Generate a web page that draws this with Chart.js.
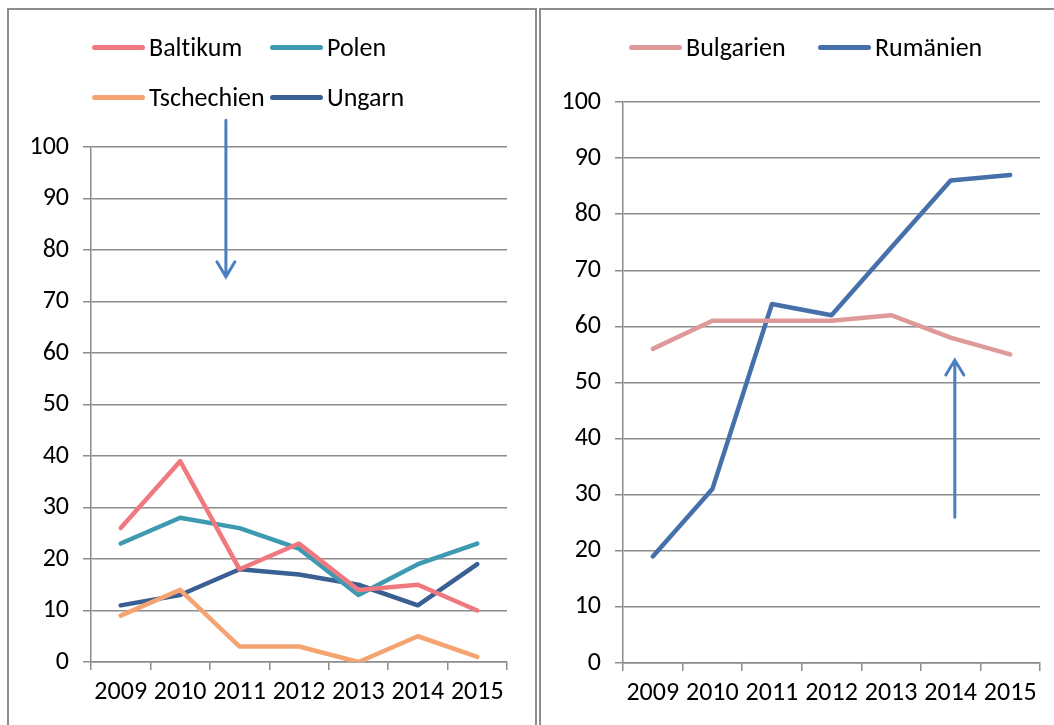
<!DOCTYPE html>
<html>
<head>
<meta charset="utf-8">
<script src="https://cdn.jsdelivr.net/npm/chart.js@4/dist/chart.umd.min.js"></script>
<style>
    body { margin: 0; background: #fff; width: 1054px; height: 725px; overflow: hidden; position: relative; font-family: Carlito, Lato, sans-serif; }
    .panel { position: absolute; top: 8px; height: 800px; border: 2px solid #8c8c8c; box-sizing: border-box; }
    canvas { position: absolute; }
    .legend { position: absolute; display: grid; row-gap: 0; font-size: 26px; color: #000; font-variant-ligatures: none; }
    .item { display: flex; align-items: center; height: 50px; white-space: nowrap; }
    .swatch { width: 53px; height: 5px; border-radius: 3px; margin-right: 4px; }
</style>
</head>
<body>
<div class="panel" style="left:7px; width:530px;"></div>
<div class="panel" style="left:539px; width:600px;"></div>
<canvas id="leftChart" width="526" height="715" style="left:9px; top:10px;"></canvas>
<canvas id="rightChart" width="513" height="715" style="left:541px; top:10px;"></canvas>
<div id="leftLegend" class="legend" style="left:92px; top:22px; grid-template-columns:178px 178px;"></div>
<div id="rightLegend" class="legend" style="left:629px; top:22px; grid-template-columns:189px 189px;"></div>
<script>
const years = ["2009", "2010", "2011", "2012", "2013", "2014", "2015"];
const yTicks = [0, 10, 20, 30, 40, 50, 60, 70, 80, 90, 100];

const leftLabels = ["Baltikum", "Polen", "Tschechien", "Ungarn"];
const leftColors = ["#f0797f", "#3d9ab1", "#f5a471", "#3a5f92"];
const baltikum = [26, 39, 18, 23, 14, 15, 10];
const polen = [23, 28, 26, 22, 13, 19, 23];
const tschechien = [9, 14, 3, 3, 0, 5, 1];
const ungarn = [11, 13, 18, 17, 15, 11, 19];

const rightLabels = ["Bulgarien", "Rumänien"];
const rightColors = ["#de9a99", "#4570aa"];
const bulgarien = [56, 61, 61, 61, 62, 58, 55];
const rumaenien = [19, 31, 64, 62, 74, 86, 87];

// arrows in data units: x = category index, y from -> to
const leftArrow = { x: 1.77, from: 105.2, to: 74.8 };
const rightArrow = { x: 5.07, from: 26, to: 54 };

const gridGray = "#8c8c8c";
const fontSpec = { family: "Carlito, Lato, sans-serif", size: 26 };

function arrowPlugin(arrow) {
    return {
        id: "arrow",
        afterDatasetsDraw(chart) {
            const ctx = chart.ctx;
            const x = chart.scales.x.getPixelForValue(arrow.x);
            const y1 = chart.scales.y.getPixelForValue(arrow.from);
            const y2 = chart.scales.y.getPixelForValue(arrow.to);
            const dir = y2 > y1 ? 1 : -1;
            ctx.save();
            ctx.strokeStyle = "#4a7fc1";
            ctx.lineWidth = 3;
            ctx.lineCap = "round";
            ctx.lineJoin = "miter";
            ctx.beginPath();
            ctx.moveTo(x, y1);
            ctx.lineTo(x, y2);
            ctx.moveTo(x - 9, y2 - dir * 15);
            ctx.lineTo(x, y2);
            ctx.lineTo(x + 9, y2 - dir * 15);
            ctx.stroke();
            ctx.restore();
        }
    };
}

function makeDatasets(labels, colors, series) {
    return series.map((data, i) => ({
        label: labels[i],
        data: data,
        borderColor: colors[i],
        backgroundColor: colors[i],
        borderWidth: 4.5,
        pointRadius: 0,
        tension: 0,
        borderCapStyle: "round",
        borderJoinStyle: "round"
    }));
}

function makeChart(id, datasets, arrow, pad) {
    return new Chart(document.getElementById(id), {
        type: "line",
        data: { labels: years, datasets: datasets },
        options: {
            responsive: false,
            animation: false,
            layout: { padding: { top: pad.top, right: pad.right, left: 0, bottom: 0 } },
            plugins: { legend: { display: false }, tooltip: { enabled: false } },
            scales: {
                x: {
                    offset: true,
                    grid: { display: true, drawOnChartArea: false, drawTicks: true, tickLength: 8, color: gridGray, lineWidth: 1.5, offset: true },
                    border: { display: true, color: gridGray, width: 1.5 },
                    ticks: { color: "#000", font: fontSpec, padding: 7, maxRotation: 0, autoSkip: false },
                    afterFit(scale) { scale.height = pad.xHeight; }
                },
                y: {
                    min: 0,
                    max: 100,
                    afterBuildTicks(scale) { scale.ticks = yTicks.map(v => ({ value: v })); },
                    grid: { color: gridGray, lineWidth: 1.5, tickLength: 8 },
                    border: { display: true, color: gridGray, width: 1.5 },
                    ticks: { color: "#000", font: fontSpec, padding: 14 },
                    afterFit(scale) { scale.width = 82; }
                }
            }
        },
        plugins: [arrowPlugin(arrow)]
    });
}

function makeLegend(id, labels, colors) {
    const box = document.getElementById(id);
    labels.forEach((label, i) => {
        const item = document.createElement("div");
        item.className = "item";
        const sw = document.createElement("span");
        sw.className = "swatch";
        sw.style.background = colors[i];
        const tx = document.createElement("span");
        tx.textContent = label;
        item.appendChild(sw);
        item.appendChild(tx);
        box.appendChild(item);
    });
}

makeChart("leftChart",
    makeDatasets(leftLabels, leftColors, [baltikum, polen, tschechien, ungarn]),
    leftArrow, { top: 137, right: 28, xHeight: 63 });

makeChart("rightChart",
    makeDatasets(rightLabels, rightColors, [bulgarien, rumaenien]),
    rightArrow, { top: 92, right: 14, xHeight: 62 });

makeLegend("leftLegend", leftLabels, leftColors);
makeLegend("rightLegend", rightLabels, rightColors);
</script>
</body>
</html>
